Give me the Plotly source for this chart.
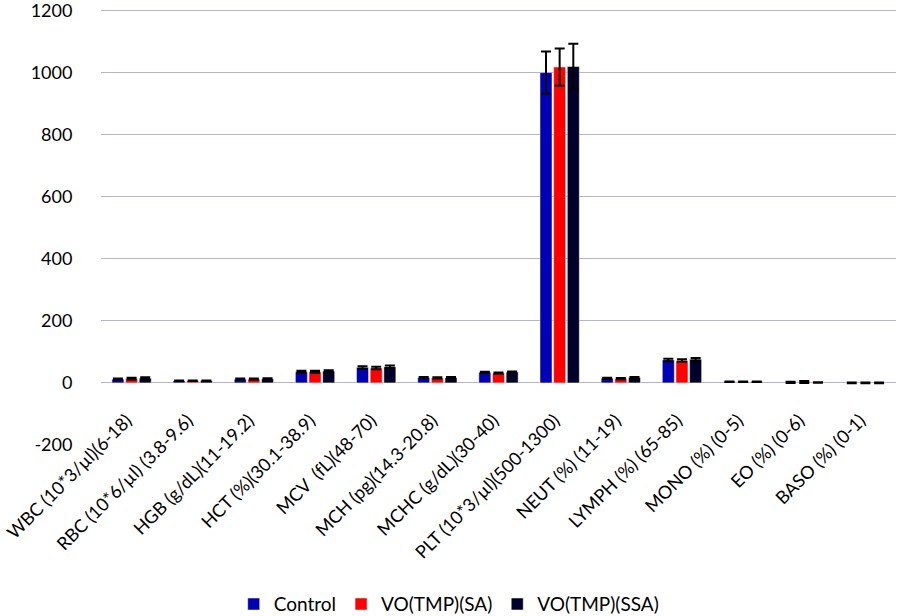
import plotly.graph_objects as go

categories = [
    "WBC (10*3/µl)(6-18)", "RBC (10*6/µl) (3.8-9.6)", "HGB (g/dL)(11-19.2)",
    "HCT (%)(30.1-38.9)", "MCV  (fL)(48-70)", "MCH (pg)(14.3-20.8)",
    "MCHC (g/dL)(30-40)", "PLT (10*3/µl)(500-1300)", "NEUT (%) (11-19)",
    "LYMPH (%) (65-85)", "MONO (%) (0-5)", "EO (%) (0-6)", "BASO (%) (0-1)",
]
control = [12, 7, 12, 36, 50, 17, 34, 1000, 15, 74, 4, 2, 0.3]
control_err = [2, 1, 2, 3, 4, 2, 2, 68, 2, 4, 1, 2, 1]
sa = [14, 7, 12, 36, 48, 16, 32, 1018, 14, 72, 4, 3, 0.3]
sa_err = [3, 1, 2, 3, 4, 2, 2, 60, 2, 4, 1, 3, 1]
ssa = [15, 7, 13, 38, 52, 17, 35, 1020, 17, 76, 4, 1.5, 0.3]
ssa_err = [3, 1, 2, 3, 4, 2, 2, 73, 2, 4, 1, 1, 1]

series = [
    ("Control", control, control_err, "#0000b4"),
    ("VO(TMP)(SA)", sa, sa_err, "#ff0000"),
    ("VO(TMP)(SSA)", ssa, ssa_err, "#00002a"),
]

yticks = [-200, 0, 200, 400, 600, 800, 1000, 1200]
yticktext = ["-200", "0", "200", "400", "600", "800", "1000", "1200"]
grid_ticks = [0, 200, 400, 600, 800, 1000, 1200]
FONT = "Lato, Calibri, Carlito, sans-serif"
Y_RANGE = [-200, 1205]

fig = go.Figure()
for name, vals, errs, col in series:
    fig.add_trace(go.Bar(
        name=name, x=categories, y=vals,
        marker=dict(color=col, line=dict(color="white", width=0.5)),
        error_y=dict(type="data", array=errs, visible=True,
                     color="black", thickness=2, width=5),
    ))

# overlay axis that carries the gridlines (no line at -200)
fig.add_trace(go.Scatter(x=[], y=[], yaxis="y2", showlegend=False, hoverinfo="skip"))

fig.update_layout(
    width=898, height=616,
    margin=dict(l=101, r=2, t=9, b=171, autoexpand=False),
    paper_bgcolor="white", plot_bgcolor="white",
    barmode="group", bargap=0.33, bargroupgap=0.12,
    font=dict(family=FONT, size=16, color="#000000"),
    xaxis=dict(
        anchor="free", position=200 / 1405,
        tickangle=-45, showgrid=False, showline=False,
        ticks="outside", ticklen=19, tickcolor="rgba(0,0,0,0)",
        ticklabelshift=-5,
        tickfont=dict(size=18, family=FONT), automargin=False,
        ticklabeloverflow="allow",
    ),
    yaxis=dict(
        range=Y_RANGE, tickvals=yticks, ticktext=yticktext, showgrid=False,
        zeroline=False, showline=False,
        ticks="outside", ticklen=24, tickcolor="rgba(0,0,0,0)",
        tickfont=dict(size=18, family=FONT), automargin=False,
        ticklabeloverflow="allow",
    ),
    yaxis2=dict(
        overlaying="y", range=Y_RANGE, tickvals=grid_ticks,
        showgrid=True, gridcolor="#b4b4d2", gridwidth=1,
        showticklabels=False, zeroline=False, showline=False, ticks="",
    ),
    legend=dict(
        orientation="h", x=0.438, xanchor="center", y=-0.365, yanchor="middle",
        font=dict(size=19, family=FONT), itemwidth=30,
        traceorder="normal",
    ),
    showlegend=True,
)

fig.write_html("out.html", config={"displayModeBar": False},
               post_script="document.body.style.margin='0';")
